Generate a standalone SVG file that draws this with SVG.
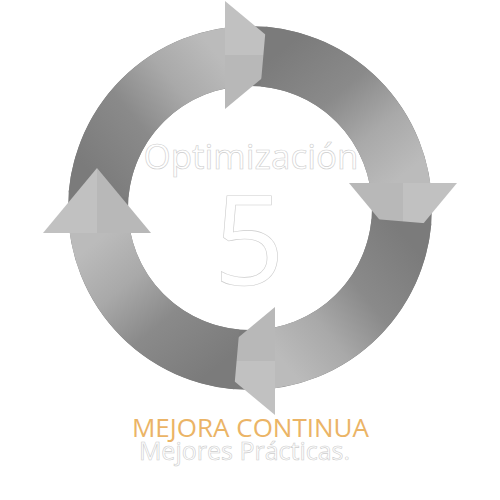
<svg xmlns="http://www.w3.org/2000/svg" width="500" height="500" viewBox="0 0 500 500">
  <defs>
    <style>
      .ring{fill:none;stroke:#7b7b7b;stroke-width:60}
      .body{fill:url(#bodyGrad)}
      .headA{fill:#c1c1c1}
      .headB{fill:#b8b8b8}
      .ttl{font-family:"Open Sans","Liberation Sans",sans-serif;fill:#ffffff;stroke:#cdcdcd;stroke-width:0.6;text-anchor:middle}
      .gold{font-family:"Open Sans","Liberation Sans",sans-serif;fill:#ebb466;text-anchor:middle}
    </style>
    <linearGradient id="bodyGrad" gradientUnits="userSpaceOnUse" x1="-165" y1="-40" x2="-30" y2="-150">
      <stop offset="0" stop-color="#7b7b7b"/>
      <stop offset="0.4" stop-color="#8a8a8a"/>
      <stop offset="0.7" stop-color="#a9a9a9"/>
      <stop offset="1" stop-color="#bbbbbb"/>
    </linearGradient>
    <g id="arrow">
      <path class="body" d="M -181.31 -15.86 A 182 182 0 0 1 -25 -180.27 L -25 -119.42 A 122 122 0 0 0 -121.54 -10.63 Z"/>
      <polygon class="headA" points="-25,-207 40,-153 -25,-153"/>
      <polygon class="headB" points="-25,-153 40,-153 -25,-99"/>
    </g>
  </defs>
  <g id="cycle" transform="translate(250,208)">
    <circle class="ring" cx="0" cy="0" r="152"/>
    <g id="arrow-top"><use href="#arrow"/></g>
    <g id="arrow-right"><use href="#arrow" transform="rotate(90)"/></g>
    <g id="arrow-bottom"><use href="#arrow" transform="rotate(180)"/></g>
    <g id="arrow-left"><use href="#arrow" transform="rotate(270)"/></g>
  </g>
  <g id="center">
    <text class="ttl" x="251" y="169" font-size="35">Optimización</text>
    <text class="ttl" x="249" y="285" font-size="125">5</text>
  </g>
  <g id="caption">
    <text class="gold" x="250.5" y="437" font-size="26">MEJORA CONTINUA</text>
    <text class="ttl" x="244.5" y="460" font-size="25">Mejores Prácticas.</text>
  </g>
</svg>
